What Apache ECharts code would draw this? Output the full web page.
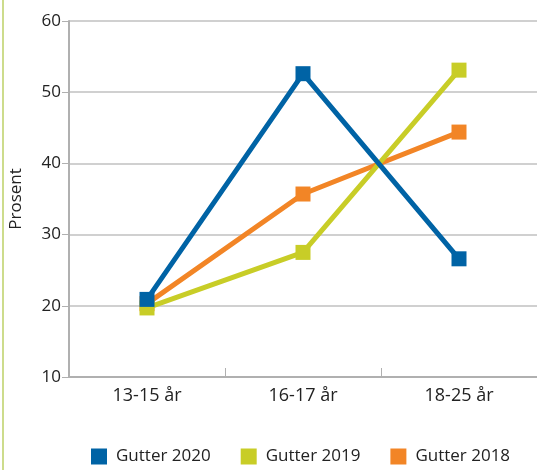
<!DOCTYPE html>
<html lang="en">
<head>
    <meta charset="UTF-8">
    <title>Gutter</title>
    <script src="https://cdn.jsdelivr.net/npm/echarts@6/dist/echarts.min.js"></script>
    <style>
        html, body { margin: 0; padding: 0; background: #fff; }
        #graph { width: 537px; height: 470px; }
    </style>
</head>
<body>
<div id="graph"></div>
<script>
    // data
    var categories = ['13-15 år', '16-17 år', '18-25 år'];
    var seriesNames = ['Gutter 2020', 'Gutter 2019', 'Gutter 2018'];
    var gutter2020 = [20.9, 52.6, 26.6];
    var gutter2019 = [19.7, 27.5, 53.1];
    var gutter2018 = [20.3, 35.7, 44.4];
    var yTicks = [10, 20, 30, 40, 50, 60];

    var colors = ['#0063a5', '#c8cd27', '#f28526'];
    var font = '"Open Sans", sans-serif';

    function lineSeries(name, data, color, z) {
        return {
            name: name,
            type: 'line',
            data: data,
            z: z,
            symbol: 'rect',
            symbolSize: 15,
            lineStyle: { color: color, width: 5 },
            itemStyle: { color: color },
            emphasis: { disabled: true }
        };
    }

    var myChart = echarts.init(document.getElementById('graph'));
    var option = {
        animation: false,
        textStyle: { fontFamily: font },
        grid: { left: 66, right: 0, top: 21, bottom: 93 },
        graphic: [{
            type: 'line',
            shape: { x1: 3, y1: 0, x2: 3, y2: 470 },
            style: { stroke: '#cddc8c', lineWidth: 2 }
        }],
        legend: {
            data: seriesNames,
            top: 443,
            left: 86,
            icon: 'rect',
            itemWidth: 16,
            itemHeight: 16,
            itemGap: 30,
            textStyle: { fontSize: 17, color: '#222', fontFamily: font, padding: [0, 0, 0, 4] }
        },
        xAxis: {
            type: 'category',
            data: categories,
            boundaryGap: true,
            axisLine: { lineStyle: { color: '#b0b0b0', width: 2 } },
            axisTick: { show: true, inside: true, length: 9, lineStyle: { color: '#b0b0b0' } },
            axisLabel: { fontSize: 18, color: '#222', margin: 10, fontFamily: font }
        },
        yAxis: {
            type: 'value',
            min: yTicks[0],
            max: yTicks[yTicks.length - 1],
            interval: 10,
            name: 'Prosent',
            nameLocation: 'middle',
            nameGap: 44,
            nameTextStyle: { fontSize: 17, color: '#222', fontFamily: font },
            axisLine: { show: true, lineStyle: { color: '#b0b0b0', width: 2 } },
            axisTick: { show: true, length: 7, lineStyle: { color: '#b0b0b0' } },
            axisLabel: { fontSize: 17, color: '#222', margin: 8, fontFamily: font },
            splitLine: { lineStyle: { color: '#c0c0c0', width: 1.5 } }
        },
        series: [
            lineSeries(seriesNames[0], gutter2020, colors[0], 4),
            lineSeries(seriesNames[1], gutter2019, colors[1], 3),
            lineSeries(seriesNames[2], gutter2018, colors[2], 2)
        ]
    };

    option && myChart.setOption(option);
</script>
</body>
</html>
